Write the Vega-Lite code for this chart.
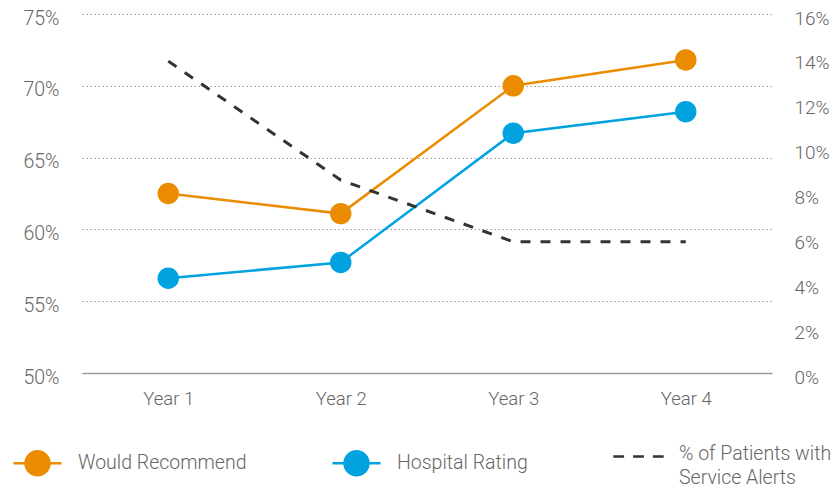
{
  "$schema": "https://vega.github.io/schema/vega-lite/v6.json",
  "width": 690,
  "height": 359,
  "autosize": {"type": "none"},
  "padding": {"left": 82, "top": 14, "right": 68, "bottom": 114},
  "config": {
    "view": {"stroke": null},
    "font": "Roboto",
    "axis": {"labelFont": "Roboto", "labelFontWeight": 300, "labelColor": "#666666", "ticks": false, "title": null}
  },
  "data": {
    "values": [
      {"year": "Year 1", "series": "Would Recommend", "value": 62.5},
      {"year": "Year 2", "series": "Would Recommend", "value": 61.1},
      {"year": "Year 3", "series": "Would Recommend", "value": 70.0},
      {"year": "Year 4", "series": "Would Recommend", "value": 71.8},
      {"year": "Year 1", "series": "Hospital Rating", "value": 56.6},
      {"year": "Year 2", "series": "Hospital Rating", "value": 57.7},
      {"year": "Year 3", "series": "Hospital Rating", "value": 66.7},
      {"year": "Year 4", "series": "Hospital Rating", "value": 68.2},
      {"year": "Year 1", "series": "% of Patients with Service Alerts", "value": 13.9},
      {"year": "Year 2", "series": "% of Patients with Service Alerts", "value": 8.6},
      {"year": "Year 3", "series": "% of Patients with Service Alerts", "value": 5.85},
      {"year": "Year 4", "series": "% of Patients with Service Alerts", "value": 5.85}
    ]
  },
  "layer": [
    {
      "transform": [{"filter": "datum.series !== '% of Patients with Service Alerts'"}],
      "mark": {"type": "line", "strokeWidth": 2.5, "point": {"filled": true, "size": 460, "opacity": 1}},
      "encoding": {
        "x": {
          "field": "year", "type": "ordinal",
          "scale": {"type": "point", "padding": 0.5},
          "axis": {"labelAngle": 0, "labelFontSize": 18.5, "labelPadding": 16, "domainColor": "#9a9a9a", "domainWidth": 1.5, "grid": false}
        },
        "y": {
          "field": "value", "type": "quantitative",
          "scale": {"domain": [50, 75], "nice": false, "zero": false},
          "axis": {
            "orient": "left", "values": [50, 55, 60, 65, 70, 75],
            "labelExpr": "datum.value + '%'", "labelFontSize": 19.5, "labelPadding": 23, "labelOffset": 4,
            "domain": false, "grid": true, "gridColor": "#9a9a9a", "gridDash": [1.5, 2.5], "gridWidth": 1
          }
        },
        "color": {
          "field": "series", "type": "nominal",
          "scale": {
            "domain": ["Would Recommend", "Hospital Rating", "% of Patients with Service Alerts"],
            "range": ["#EB8C00", "#00A3E0", "#333333"]
          },
          "legend": {
            "title": null,
            "orient": "none",
            "legendX": -58,
            "legendY": 429,
            "direction": "horizontal",
            "columns": 3,
            "gridAlign": "each",
            "columnPadding": 80,
            "symbolSize": 576,
            "symbolStrokeWidth": 2.5,
            "labelOffset": 27,
            "labelFont": "Roboto",
            "labelFontWeight": 300,
            "labelFontSize": 19.5,
            "labelColor": "#666666",
            "labelLimit": 400,
            "labelExpr": "datum.label === '% of Patients with Service Alerts' ? ['% of Patients with', 'Service Alerts'] : datum.label",
            "encode": {
              "labels": {"update": {"lineHeight": {"value": 24}, "dy": {"signal": "datum.value === '% of Patients with Service Alerts' ? -3 : 0"}}},
              "symbols": {
                "update": {
                  "shape": [
                    {"test": "datum.value === '% of Patients with Service Alerts'", "value": "M-2.1,0L-1.2,0M-0.45,0L0.45,0M1.2,0L2.1,0"},
                    {"value": "M-2,0L2,0M-1,0A1,1 0 1,0 1,0A1,1 0 1,0 -1,0Z"}
                  ],
                  "fill": [
                    {"test": "datum.value === '% of Patients with Service Alerts'", "value": "transparent"},
                    {"scale": "color", "field": "value"}
                  ],
                  "stroke": {"scale": "color", "field": "value"},
                  "strokeDash": {"value": []},
                  "strokeWidth": {"value": 2.5},
                  "opacity": {"value": 1}
                }
              }
            }
          }
        }
      }
    },
    {
      "transform": [{"filter": "datum.series === '% of Patients with Service Alerts'"}],
      "mark": {"type": "line", "strokeWidth": 3, "strokeDash": [10, 10]},
      "encoding": {
        "x": {"field": "year", "type": "ordinal", "scale": {"type": "point", "padding": 0.5}},
        "y": {
          "field": "value", "type": "quantitative",
          "scale": {"domain": [0, 16], "nice": false},
          "axis": {
            "orient": "right", "values": [0, 2, 4, 6, 8, 10, 12, 14, 16],
            "labelExpr": "datum.value + '%'", "labelFontSize": 19, "labelPadding": 22, "labelOffset": 4,
            "domain": false, "grid": false
          }
        },
        "color": {"field": "series", "type": "nominal"}
      }
    }
  ],
  "resolve": {"scale": {"y": "independent"}}
}
